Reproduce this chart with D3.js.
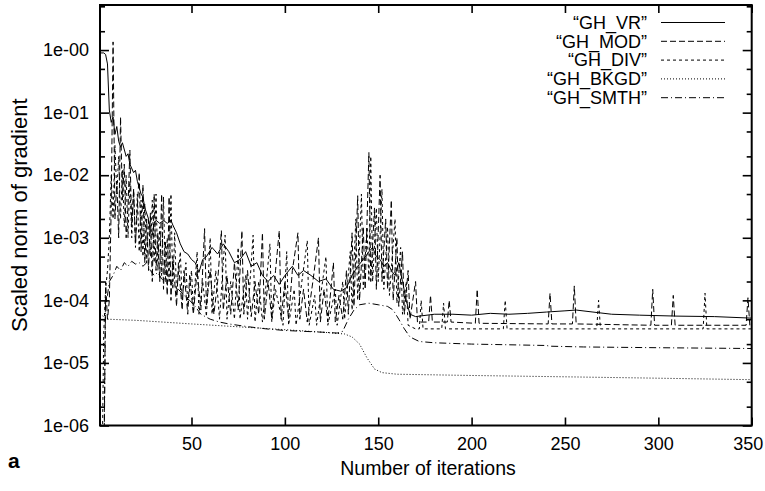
<!DOCTYPE html>
<html>
<head>
<meta charset="utf-8">
<script src="https://cdn.jsdelivr.net/npm/d3@7"></script>
<style>
body { margin: 0; background: #fff; }
text { font-family: "Liberation Sans", Arial, sans-serif; fill: #000; }
</style>
</head>
<body>
<div id="canvas"></div>
<script>
"use strict"

/* Configuration variables: drawing */
let svgWidth = 765;
let svgHeight = 491;
let plotLeft = 100;
let plotRight = 751.7;
let plotTop = 5;
let plotBottom = 425.5;

/* Data: [iteration, scaled norm of gradient] */
let seriesNames = ["\u201cGH_VR\u201d", "\u201cGH_MOD\u201d", "\u201cGH_DIV\u201d", "\u201cGH_BKGD\u201d", "\u201cGH_SMTH\u201d"];

let ghVR = [
    [1,0.9],[3,0.9],[4,0.85],[5,0.6],[6,0.11],[7,0.07],[8,0.085],[9,0.045],[10,0.06],[11,0.035],
    [12,0.028],[13,0.033],[15,0.02],[16,0.022],[17,0.015],[19,0.011],[20,0.012],[21,0.008],[23,0.005],
    [24,0.0045],[25,0.003],[27,0.002],[28,0.0012],[29,0.0011],[30,0.0017],[31,0.0019],[33,0.0017],
    [35,0.0019],[37,0.0017],[39,0.0019],[40,0.0016],[42,0.0012],[44,0.0008],[46,0.0006],[48,0.00055],
    [50,0.00045],[52,0.0004],[54,0.00028],[56,0.00045],[58,0.0005],[61,0.0007],[64,0.00055],[67,0.0008],
    [70,0.0006],[73,0.0004],[76,0.00045],[79,0.0006],[82,0.00035],[85,0.0004],[88,0.00025],[91,0.0002],
    [94,0.00025],[97,0.00018],[100,0.00025],[104,0.00035],[107,0.00025],[110,0.0003],[114,0.00025],
    [118,0.0002],[122,0.00022],[126,0.00015],[130,0.00014],[133,0.00016],[136,0.00025],[139,0.00035],
    [142,0.00045],[145,0.0006],[147,0.0007],[149,0.0005],[151,0.00045],[153,0.00035],[155,0.0004],
    [157,0.0003],[159,0.00025],[161,0.0004],[163,0.0002],[165,0.0001],[167,0.00006],[170,0.000055],
    [180,0.00006],[190,0.00006],[200,0.000058],[210,0.000062],[220,0.00006],[230,0.000062],[240,0.000065],
    [250,0.000068],[256,0.00007],[265,0.000065],[275,0.00006],[290,0.000058],[310,0.000056],[330,0.000055],
    [350,0.000052]
];

let ghMOD = [
    [1,1e-7],[3,1e-7],[4,2e-4],[5,5e-5],[6,1e-4],[7,3e-3],[8,1.35],[9,2e-3],[10,8e-3],[11,1e-3],
    [12,0.085],[13,4e-3],[14,1.5e-2],[15,1e-3],[16,3e-3],[17,0.025],[18,1.5e-3],[19,6e-3],[20,8e-4],
    [21,3e-3],[22,0.011],[23,6e-4],[24,7e-3],[25,4e-4],[26,2e-3],[27,3e-4],[28,2.5e-3],[29,2e-4],
    [30,5e-3],[31,3e-4],[32,1.2e-3],[33,2e-4],[34,5e-3],[35,1.5e-4],[36,9e-4],[37,1.2e-4],[38,4.5e-3],
    [39,1e-4],[40,5e-4],[42,8e-5],[43,4e-4],[45,7e-5],[46,3e-4],[48,6e-5],[49,2.5e-4],[51,6e-5],
    [53,3e-4],[55,7e-5],[57,1.4e-3],[58,8e-5],[60,3e-4],[62,6e-5],[64,2e-4],[66,1.3e-3],[67,7e-5],
    [69,2.5e-4],[71,6e-5],[73,4e-4],[75,7e-5],[77,1.3e-3],[78,6e-5],[80,3e-4],[82,5.5e-5],[84,2e-4],
    [86,6e-5],[88,1.2e-3],[89,5e-5],[91,2e-4],[93,5e-5],[95,3e-4],[97,1.3e-3],[98,5e-5],[100,2e-4],
    [102,5e-5],[104,3e-4],[107,1.2e-3],[108,5e-5],[110,1.5e-4],[112,4.5e-5],[115,2e-4],[118,1e-3],
    [119,4.5e-5],[121,1.5e-4],[123,4.5e-5],[126,4e-4],[127,4.5e-5],[129,1.2e-4],[131,5e-5],[133,3e-4],
    [134,6e-5],[136,1.2e-3],[137,8e-5],[139,4.7e-3],[140,1e-4],[142,1.5e-3],[143,1.5e-4],[145,0.023],
    [146,2e-4],[148,3e-3],[149,1.5e-4],[151,1e-2],[152,2e-4],[154,2e-3],[155,1.5e-4],[157,4e-3],
    [158,1e-4],[160,1e-3],[161,8e-5],[163,6e-4],[164,6e-5],[166,3e-4],[167,5e-5],[170,2e-4],[171,4.5e-5],
    [177,4.5e-5],[178,1.2e-4],[179,4.5e-5],[187,4.5e-5],[188,1e-4],[189,4.5e-5],[202,4.3e-5],[203,1.5e-4],
    [204,4.3e-5],[241,4.2e-5],[242,1.3e-4],[243,4.2e-5],[254,4.2e-5],[255,1.7e-4],[256,4.2e-5],
    [296,4e-5],[297,1.5e-4],[298,4e-5],[307,4e-5],[308,1.2e-4],[309,4e-5],[347,4e-5],[348,1.1e-4],
    [349,4e-5],[350,4e-5]
];

let ghDIV = [
    [1,1e-7],[2,1e-7],[3,3e-5],[4,1.5e-4],[5,3e-4],[6,1e-3],[7,0.01],[8,2e-3],[9,0.03],[10,5e-3],
    [11,0.02],[12,2e-3],[13,0.012],[14,1.5e-3],[15,0.01],[16,1e-3],[17,8e-3],[18,1e-3],[19,6e-3],
    [20,7e-4],[21,5e-3],[22,6e-4],[23,4e-3],[24,5e-4],[25,3.5e-3],[26,4e-4],[27,2e-3],[28,5e-4],
    [29,4e-3],[30,4e-4],[31,5e-3],[32,3e-4],[33,1.5e-3],[34,2.5e-4],[35,4.5e-3],[36,2e-4],[37,1e-3],
    [38,2e-4],[39,5e-3],[40,1.5e-4],[41,1.2e-3],[42,1.2e-4],[44,6e-4],[45,1e-4],[47,4e-4],[48,8e-5],
    [50,3e-4],[51,7e-5],[53,6e-4],[54,6e-5],[56,2e-4],[58,5.5e-5],[60,1e-3],[61,6e-5],[63,3e-4],
    [65,5e-5],[68,1.1e-3],[69,5e-5],[71,2e-4],[73,5e-5],[75,7e-4],[76,5e-5],[79,2.5e-4],[80,5e-5],
    [83,1.1e-3],[84,4.5e-5],[86,2e-4],[88,4.5e-5],[92,8e-4],[93,4.5e-5],[95,1.5e-4],[99,4e-5],
    [101,6e-4],[102,4e-5],[105,1.5e-4],[106,4e-5],[112,9e-4],[113,4e-5],[116,1.2e-4],[117,4e-5],
    [122,5e-4],[123,4e-5],[127,1.5e-4],[128,4e-5],[131,2e-4],[132,5e-5],[135,6e-4],[136,7e-5],
    [138,2e-3],[139,1e-4],[141,5e-3],[142,1.5e-4],[144,1.5e-3],[145,2e-4],[146,0.02],[147,2e-4],
    [149,3e-3],[150,2e-4],[152,6e-3],[153,1.5e-4],[155,1.5e-3],[156,1.2e-4],[159,2e-3],[160,9e-5],
    [162,7e-4],[163,6e-5],[165,2e-4],[166,4e-5],[170,3.5e-5],[172,3.5e-5],[173,1e-4],[174,3.5e-5],
    [184,3.5e-5],[185,9e-5],[186,3.5e-5],[217,3.5e-5],[218,1e-4],[219,3.5e-5],[267,3.5e-5],[268,1e-4],
    [269,3.5e-5],[324,3.5e-5],[325,1.3e-4],[326,3.5e-5],[350,3.5e-5]
];

let ghBKGD = [
    [1,6e-5],[3,5.5e-5],[5,5e-5],[20,4.8e-5],[50,4.2e-5],[80,3.7e-5],[100,3.4e-5],[120,3.1e-5],
    [132,2.9e-5],[136,2.6e-5],[140,2e-5],[144,1.2e-5],[148,8e-6],[152,7e-6],[160,6.6e-6],[200,6.3e-6],
    [250,6e-6],[300,5.7e-6],[350,5.4e-6]
];

let ghSMTH = [
    [1,1e-7],[3,1e-7],[4,1e-4],[5,1.2e-4],[6,2e-4],[8,2.5e-4],[10,3.5e-4],[12,3e-4],[14,4e-4],
    [16,3.5e-4],[18,4.2e-4],[20,3.8e-4],[22,4e-4],[24,3.5e-4],[26,4e-4],[28,3e-4],[30,2.5e-4],
    [32,2.8e-4],[34,2.2e-4],[36,2e-4],[38,2.2e-4],[40,1.8e-4],[43,1.5e-4],[46,1.2e-4],[49,1e-4],
    [52,8e-5],[55,6e-5],[60,5e-5],[65,4.5e-5],[70,4.2e-5],[80,3.8e-5],[90,3.5e-5],[100,3.3e-5],
    [110,3.2e-5],[120,3.1e-5],[128,3e-5],[131,3.2e-5],[134,5e-5],[137,7e-5],[140,8.5e-5],[145,9e-5],
    [150,8.5e-5],[155,8e-5],[158,7e-5],[161,5e-5],[164,3.5e-5],[167,2.6e-5],[172,2.2e-5],[180,2.1e-5],
    [200,2e-5],[220,1.95e-5],[240,1.9e-5],[242,1.85e-5],[260,1.8e-5],[300,1.75e-5],[350,1.7e-5]
];

/* Tick values */
let xTickValues = [50, 100, 150, 200, 250, 300, 350];
let yTickValues = [1, 1e-1, 1e-2, 1e-3, 1e-4, 1e-5, 1e-6];
let yTickLabels = ["1e-00", "1e-01", "1e-02", "1e-03", "1e-04", "1e-05", "1e-06"];

/* Line styles */
let dashStyles = ["none", "6,3", "3,3", "1,2", "7,3,1,3"];

/* Create drawing canvas */
let svg = d3.select("#canvas")
    .append("svg")
    .attr("width", svgWidth)
    .attr("height", svgHeight);

/* Scales */
let xScale = d3.scaleLinear()
    .domain([1, 350])
    .range([plotLeft, plotRight]);

let yScale = d3.scaleLog()
    .domain([1e-6, 5.25])
    .range([plotBottom, plotTop]);

/* Minor ticks at 2 and 5 in every decade */
let yMinor = [];
for (let e = -6; e <= 0; e++) {
    [2, 5].forEach(function (m) {
        let v = m * Math.pow(10, e);
        if (v < 5.25) yMinor.push(v);
    });
}

/* Clip lines to plot area */
svg.append("clipPath")
    .attr("id", "clip")
    .append("rect")
    .attr("x", plotLeft)
    .attr("y", plotTop)
    .attr("width", plotRight - plotLeft)
    .attr("height", plotBottom - plotTop);

/* Draw series */
let allSeries = [ghVR, ghMOD, ghDIV, ghBKGD, ghSMTH];
let line = d3.line()
    .x(function (d) { return xScale(d[0]); })
    .y(function (d) { return yScale(d[1]); });

let drawOrder = [3, 4, 2, 1, 0];
drawOrder.forEach(function (i) {
    svg.append("path")
        .datum(allSeries[i])
        .attr("clip-path", "url(#clip)")
        .attr("fill", "none")
        .attr("stroke", "#000")
        .attr("stroke-width", 1)
        .attr("stroke-dasharray", dashStyles[i])
        .attr("d", line);
});

/* Axes: ticks point inward on all four sides */
function styleAxis(g) {
    g.select(".domain").remove();
    g.selectAll(".tick line").attr("stroke", "#000").attr("stroke-width", 1.6);
    g.selectAll("text").attr("font-size", 18).attr("fill", "#000")
        .attr("font-family", "'Liberation Sans', Arial, sans-serif");
}

let xAxisG = svg.append("g")
    .attr("transform", "translate(0," + plotBottom + ")")
    .call(d3.axisBottom(xScale).tickValues(xTickValues).tickSize(-8).tickPadding(12)
        .tickFormat(d3.format("d")))
    .call(styleAxis);
// last label sits against the right edge
xAxisG.selectAll(".tick text").filter(function (d) { return d === 350; }).attr("dx", -4);

svg.append("g")
    .attr("transform", "translate(0," + plotTop + ")")
    .call(d3.axisTop(xScale).tickValues(xTickValues).tickSize(-8).tickFormat(""))
    .call(styleAxis);

svg.append("g")
    .attr("transform", "translate(" + plotLeft + ",0)")
    .call(d3.axisLeft(yScale).tickValues(yTickValues).tickSize(-9).tickPadding(11)
        .tickFormat(function (d, i) { return yTickLabels[i]; }))
    .call(styleAxis);

svg.append("g")
    .attr("transform", "translate(" + plotLeft + ",0)")
    .call(d3.axisLeft(yScale).tickValues(yMinor).tickSize(-5).tickFormat(""))
    .call(styleAxis);

svg.append("g")
    .attr("transform", "translate(" + plotRight + ",0)")
    .call(d3.axisRight(yScale).tickValues(yTickValues).tickSize(-9).tickFormat(""))
    .call(styleAxis);

svg.append("g")
    .attr("transform", "translate(" + plotRight + ",0)")
    .call(d3.axisRight(yScale).tickValues(yMinor).tickSize(-5).tickFormat(""))
    .call(styleAxis);

/* Plot border */
svg.append("rect")
    .attr("x", plotLeft)
    .attr("y", plotTop)
    .attr("width", plotRight - plotLeft)
    .attr("height", plotBottom - plotTop)
    .attr("fill", "none")
    .attr("stroke", "#000")
    .attr("stroke-width", 2);

/* Axis labels */
svg.append("text")
    .attr("x", 428)
    .attr("y", 475)
    .attr("text-anchor", "middle")
    .attr("font-size", 19.5)
    .text("Number of iterations");

svg.append("text")
    .attr("transform", "translate(27," + (plotTop + plotBottom) / 2 + ") rotate(-90)")
    .attr("text-anchor", "middle")
    .attr("font-size", 22)
    .text("Scaled norm of gradient");

svg.append("text")
    .attr("x", 8)
    .attr("y", 468)
    .attr("font-size", 21)
    .attr("font-weight", "bold")
    .text("a");

/* Legend */
let legendTextX = 647;
let legendLineX1 = 661;
let legendLineX2 = 725;
let legendY0 = 22.5;
let legendStep = 18.8;

seriesNames.forEach(function (name, i) {
    let y = legendY0 + i * legendStep;
    svg.append("text")
        .attr("x", legendTextX)
        .attr("y", y)
        .attr("dy", "0.35em")
        .attr("text-anchor", "end")
        .attr("font-size", 18)
        .text(name);
    svg.append("line")
        .attr("x1", legendLineX1)
        .attr("x2", legendLineX2)
        .attr("y1", y)
        .attr("y2", y)
        .attr("stroke", "#000")
        .attr("stroke-width", 1)
        .attr("stroke-dasharray", dashStyles[i]);
});
</script>
</body>
</html>
